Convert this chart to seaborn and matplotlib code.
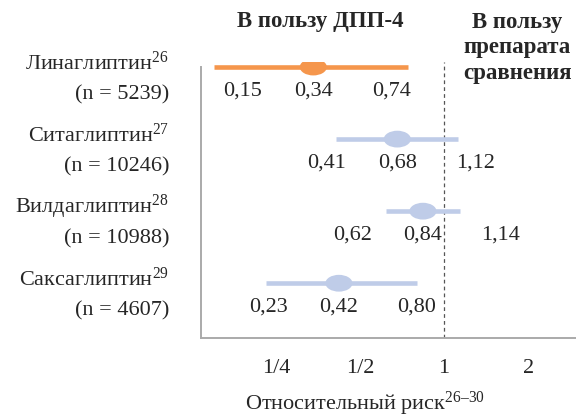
import numpy as np
import pandas as pd
import matplotlib
matplotlib.use('Agg')
import matplotlib.pyplot as plt
from matplotlib.path import Path
import seaborn as sns

# data
drugs = ['Линаглиптин', 'Ситаглиптин', 'Вилдаглиптин', 'Саксаглиптин']
refs = ['26', '27', '28', '29']
n_patients = ['5239', '10246', '10988', '4607']
rr = [0.34, 0.68, 0.84, 0.42]
ci_low = [0.15, 0.41, 0.62, 0.23]
ci_high = [0.74, 1.12, 1.14, 0.80]
colors = ['#F5964C', '#BFCCE8', '#BFCCE8', '#BFCCE8']
xticks = [0.25, 0.5, 1, 2]
xtick_labels = ['1/4', '1/2', '1', '2']

df = pd.DataFrame({'drug': drugs, 'rr': rr, 'lo': ci_low, 'hi': ci_high,
                   'row': np.arange(len(drugs))})

sns.set_theme(style='white')
plt.rcParams['font.family'] = ['Liberation Serif', 'DejaVu Serif']
plt.rcParams['mathtext.fontset'] = 'custom'
plt.rcParams['mathtext.rm'] = 'Liberation Serif'
plt.rcParams['mathtext.it'] = 'Liberation Serif'

FS = 16

fig = plt.figure(figsize=(5.76, 4.17), dpi=100)
ax = fig.add_axes([201 / 576, 1 - 338 / 417, 375 / 576, (338 - 62) / 417])

# confidence intervals
ax.hlines(df['row'], df['lo'], df['hi'], colors=colors, lw=3.3, zorder=2)

# oval markers for point estimates
circ = Path.unit_circle()
oval = Path(circ.vertices * np.array([1.0, 0.62]), circ.codes)
sns.scatterplot(data=df, x='rr', y='row', hue='drug', palette=colors,
                marker=oval, s=380, linewidth=0, legend=False, ax=ax, zorder=3)

ax.axvline(1, color='#555555', lw=0.9, ls=(0, (3, 2.5)), zorder=1)

ax.set_xscale('log', base=2)
ax.set_xlim(0.1346, 2.97)
ax.set_ylim(3.76, -0.07)
ax.set_xticks(xticks)
ax.set_xticklabels(xtick_labels, fontsize=FS)
ax.minorticks_off()
ax.set_yticks(df['row'])
ax.set_yticklabels([])
ax.set_xlabel('')
ax.set_ylabel('')

for side in ['top', 'right']:
    ax.spines[side].set_visible(False)
for side in ['left', 'bottom']:
    ax.spines[side].set_color('#aaaaaa')
    ax.spines[side].set_linewidth(1.4)
ax.spines['left'].set_bounds(0, 3.76)
ax.tick_params(axis='x', direction='in', length=12, width=1, color='black', pad=15)
ax.tick_params(axis='y', direction='out', length=12, width=1, color='black')

# row labels and value labels (values placed around the point estimate)
for i, r in df.iterrows():
    ax.annotate(f'{r["drug"]}$^{{\\mathrm{{{refs[i]}}}}}$', xy=(0, r['row']),
                xycoords=('axes fraction', 'data'), xytext=(-23, 3),
                textcoords='offset points', ha='right', va='center', fontsize=FS)
    ax.annotate(f'(n = {n_patients[i]})', xy=(0, r['row']),
                xycoords=('axes fraction', 'data'), xytext=(-23, -20),
                textcoords='offset points', ha='right', va='center', fontsize=FS)
    for val, dx in [(r['lo'], -51), (r['rr'], 0), (r['hi'], 56)]:
        ax.annotate(f'{val:.2f}'.replace('.', ','), xy=(r['rr'], r['row']),
                    xytext=(dx, -17), textcoords='offset points',
                    ha='center', va='center', fontsize=FS)

fig.text(320 / 576, 1 - 22 / 417, 'В пользу ДПП-4', ha='center', va='center',
         fontsize=16.5, fontweight='bold')
fig.text(517 / 576, 1 - 48 / 417, 'В пользу\nпрепарата\nсравнения', ha='center',
         va='center', fontsize=16.5, fontweight='bold', linespacing=1.3)
fig.text(365 / 576, 1 - 404 / 417, 'Относительный риск$^{\\mathrm{26–30}}$',
         ha='center', va='center', fontsize=FS)

fig.savefig('out.png', dpi=100)
